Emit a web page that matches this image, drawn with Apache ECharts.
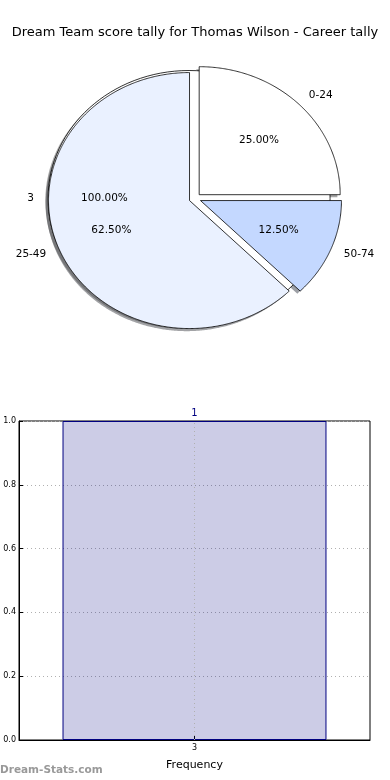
<!DOCTYPE html>
<html><head><meta charset="utf-8">
<script src="https://cdn.jsdelivr.net/npm/echarts@6/dist/echarts.min.js"></script>
<style>html,body{margin:0;padding:0;background:#fff}#c{width:390px;height:780px}</style>
</head><body><div id="c"></div>
<script>
const titleText = 'Dream Team score tally for Thomas Wilson - Career tally';
const pieLabels = ['0-24', '25-49', '50-74'];
const pieValues = [2, 5, 1];
const pieColors = ['#ffffff', '#eaf1ff', '#c4d8ff'];
const innerLabels = ['3'];
const innerValues = [1];
const innerColors = ['#ffffff'];
const barCategories = ['3'];
const barValues = [1];
const xAxisName = 'Frequency';
const watermark = 'Dream-Stats.com';

const FONT = 'DejaVu Sans';
const CX = 195, CY = 198.5, RX = 141, RY = 128, EXPLODE = 0.042;
const SHADOW_DX = -2.8, SHADOW_DY = 2.6;

function angles(values) {
  const total = values.reduce((a, b) => a + b, 0);
  let acc = 0;
  return values.map(v => {
    const a0 = acc / total * 2 * Math.PI;
    acc += v;
    const a1 = acc / total * 2 * Math.PI;
    return { a0, a1, mid: (a0 + a1) / 2, frac: v / total };
  });
}
function centerOf(mid) {
  return [CX + EXPLODE * RX * Math.cos(mid), CY - EXPLODE * RY * Math.sin(mid)];
}
function wedgeShape(c, a0, a1) {
  const full = (a1 - a0) >= 2 * Math.PI - 1e-9;
  if (full) return { type: 'ellipse', shape: { cx: c[0], cy: c[1], rx: RX, ry: RY } };
  const pts = [[c[0], c[1]]];
  const n = Math.max(4, Math.ceil((a1 - a0) / (Math.PI / 360)));
  for (let k = 0; k <= n; k++) {
    const t = a0 + (a1 - a0) * k / n;
    pts.push([c[0] + RX * Math.cos(t), c[1] - RY * Math.sin(t)]);
  }
  return { type: 'polygon', shape: { points: pts } };
}
function shadowColor(hex) {
  const r = parseInt(hex.slice(1, 3), 16), g = parseInt(hex.slice(3, 5), 16), b = parseInt(hex.slice(5, 7), 16);
  return 'rgba(' + Math.round(r * 0.3) + ',' + Math.round(g * 0.3) + ',' + Math.round(b * 0.3) + ',0.5)';
}

// mode: 'shadow' | 'wedge' | 'label'
function makePieSeries(values, labels, colors, zBase, mode) {
  const ang = angles(values);
  return {
    type: 'custom',
    coordinateSystem: 'none',
    silent: true,
    z: zBase,
    data: values.map((v, i) => [v, i]),
    renderItem: function (params, api) {
      const i = params.dataIndex;
      const a = ang[i];
      const c = centerOf(a.mid);
      if (mode === 'shadow') {
        const s = wedgeShape([c[0] + SHADOW_DX, c[1] + SHADOW_DY], a.a0, a.a1);
        s.style = { fill: shadowColor(colors[i]), stroke: null };
        return s;
      }
      if (mode === 'wedge') {
        const w = wedgeShape(c, a.a0, a.a1);
        w.style = { fill: colors[i], stroke: '#000', lineWidth: 0.8 };
        return w;
      }
      const cosm = Math.cos(a.mid), sinm = Math.sin(a.mid);
      const lx = c[0] + 1.1 * RX * cosm, ly = c[1] - 1.1 * RY * sinm;
      const px = c[0] + 0.6 * RX * cosm, py = c[1] - 0.6 * RY * sinm;
      return {
        type: 'group',
        children: [
          { type: 'text', style: { x: lx, y: ly, text: labels[i], fill: '#000', font: '10.5px "' + FONT + '"', textAlign: cosm > 1e-9 ? 'left' : 'right', textVerticalAlign: 'middle' } },
          { type: 'text', style: { x: px, y: py, text: (a.frac * 100).toFixed(2) + '%', fill: '#000', font: '10.5px "' + FONT + '"', textAlign: 'center', textVerticalAlign: 'middle' } }
        ]
      };
    }
  };
}

const chart = echarts.init(document.getElementById('c'), null, { renderer: 'canvas' });
chart.setOption({
  animation: false,
  backgroundColor: '#fff',
  title: {
    text: titleText, left: 'center', top: 21,
    textStyle: { fontFamily: FONT, fontSize: 13, fontWeight: 'normal', color: '#000' }
  },
  graphic: [{
    type: 'text', left: 0, top: 765,
    style: { text: watermark, fill: '#999', font: 'bold 10.5px "' + FONT + '"' }
  }],
  grid: { left: 19, right: 20, top: 421, bottom: 40, show: true, borderColor: '#000', borderWidth: 1, backgroundColor: 'transparent' },
  xAxis: {
    type: 'category', data: barCategories,
    name: xAxisName, nameLocation: 'middle', nameGap: 20,
    nameTextStyle: { fontFamily: FONT, fontSize: 11, color: '#000' },
    axisLine: { show: true, lineStyle: { color: '#000' } },
    axisTick: { show: true, alignWithLabel: true, inside: true, length: 4, lineStyle: { color: '#000' } },
    axisLabel: { fontFamily: FONT, fontSize: 8, color: '#000', margin: 4 },
    splitLine: { show: false }
  },
  yAxis: {
    type: 'value', min: 0, max: 1, interval: 0.2,
    axisLine: { show: true, lineStyle: { color: '#000' } },
    axisTick: { show: true, inside: true, length: 4, lineStyle: { color: '#000' } },
    axisLabel: { fontFamily: FONT, fontSize: 8, color: '#000', margin: 3, formatter: v => v.toFixed(1) },
    splitLine: { show: true, lineStyle: { color: '#b0b0b0', type: [1, 3], width: 1 } }
  },
  series: [
    makePieSeries(innerValues, innerLabels, innerColors, 1, 'shadow'),
    makePieSeries(pieValues, pieLabels, pieColors, 1, 'shadow'),
    makePieSeries(innerValues, innerLabels, innerColors, 2, 'wedge'),
    makePieSeries(pieValues, pieLabels, pieColors, 3, 'wedge'),
    makePieSeries(innerValues, innerLabels, innerColors, 5, 'label'),
    makePieSeries(pieValues, pieLabels, pieColors, 5, 'label'),
    {
      type: 'bar', data: barValues, barWidth: '75.2%',
      itemStyle: { color: 'rgba(0,0,128,0.2)', borderColor: '#000080', borderWidth: 1 },
      label: { show: true, position: 'top', distance: 3, color: '#000080', fontFamily: FONT, fontSize: 10 },
      markLine: {
        silent: true, symbol: 'none', label: { show: false },
        lineStyle: { color: '#b0b0b0', type: [1, 3], width: 1 },
        data: [{ xAxis: barCategories[0] }]
      }
    }
  ]
});
</script></body></html>
